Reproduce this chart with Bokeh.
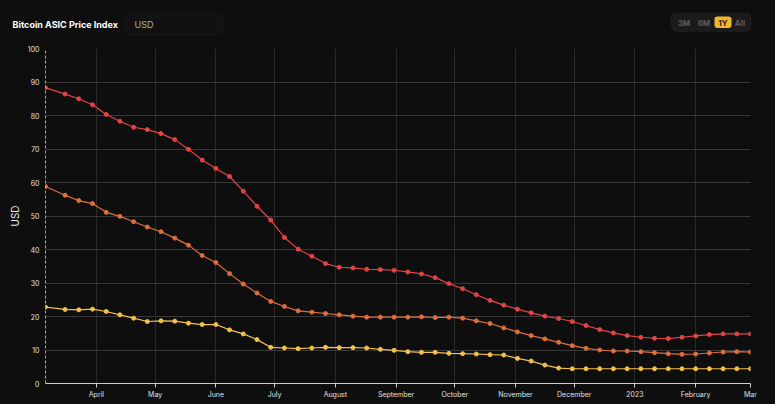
import pandas as pd
from bokeh.plotting import figure
from bokeh.models import (FixedTicker, Label, BoxAnnotation,
                          ColumnDataSource, Range1d)
from bokeh.embed import file_html
from bokeh.resources import INLINE

# ---------------- data ----------------
first_date = "2022-03-06"
weekly_start = "2022-03-16"
dates = [pd.Timestamp(first_date)] + list(pd.date_range(weekly_start, periods=51, freq="7D"))

under_38 = [88.3, 86.4, 85.0, 83.2, 80.3, 78.3, 76.5, 75.8, 74.6, 72.8,
            69.9, 66.7, 64.2, 61.8, 57.4, 52.9, 48.8, 43.6, 40.1, 38.0,
            35.8, 34.7, 34.5, 34.1, 34.0, 33.8, 33.3, 32.7, 31.6, 29.8,
            28.3, 26.5, 24.8, 23.4, 22.2, 21.1, 20.1, 19.4, 18.5, 17.3,
            16.1, 15.1, 14.3, 13.8, 13.5, 13.4, 13.8, 14.2, 14.6, 14.8,
            14.8, 14.8]
mid_38_68 = [58.8, 56.2, 54.6, 53.7, 51.1, 49.9, 48.3, 46.7, 45.3, 43.4,
             41.3, 38.2, 36.1, 32.8, 29.7, 27.0, 24.5, 23.0, 21.7, 21.3,
             20.9, 20.5, 20.1, 19.8, 19.8, 19.8, 19.8, 19.9, 19.7, 19.8,
             19.5, 18.7, 17.9, 16.6, 15.4, 14.3, 13.3, 12.3, 11.3, 10.5,
             10.0, 9.7, 9.7, 9.5, 9.2, 8.9, 8.7, 8.8, 9.1, 9.4,
             9.5, 9.4]
above_68 = [22.8, 22.1, 22.0, 22.2, 21.5, 20.5, 19.5, 18.5, 18.7, 18.6,
            18.0, 17.6, 17.6, 16.0, 14.8, 13.1, 10.8, 10.6, 10.4, 10.6,
            10.8, 10.7, 10.7, 10.6, 10.2, 9.9, 9.5, 9.3, 9.3, 9.0,
            8.9, 8.8, 8.6, 8.5, 7.5, 6.7, 5.5, 4.6, 4.4, 4.4,
            4.4, 4.4, 4.4, 4.4, 4.4, 4.4, 4.4, 4.4, 4.4, 4.4,
            4.4, 4.4]

month_ticks = ["2022-04-01", "2022-05-01", "2022-06-01", "2022-07-01",
               "2022-08-01", "2022-09-01", "2022-10-01", "2022-11-01",
               "2022-12-01", "2023-01-01", "2023-02-01", "2023-03-01"]
month_labels = ["April", "May", "June", "July", "August", "September",
                "October", "November", "December", "2023", "February", "Mar"]
y_ticks = [0, 10, 20, 30, 40, 50, 60, 70, 80, 90, 100]

title_text = "Bitcoin ASIC Price Index"
currency = "USD"
range_buttons = ["3M", "6M", "1Y", "All"]
active_button = "1Y"

series_colors = ["#e24444", "#dd6f3e", "#f2c14e"]

# ---------------- layout constants ----------------
BG = "#0e0e0e"
W = 775
HH = 36            # header height
H = 404 - HH       # chart height
FRAME_L, FRAME_R = 45, 750

# ---------------- header figure (separate root, frame = whole canvas) ----------------
hdr = figure(width=W, height=HH, output_backend="svg", toolbar_location=None,
             x_range=Range1d(0, W), y_range=Range1d(0, HH),
             x_axis_location=None, y_axis_location=None,
             min_border=0, min_border_left=0, min_border_right=0,
             min_border_top=0, min_border_bottom=0)
hdr.background_fill_color = BG
hdr.border_fill_color = BG
hdr.outline_line_color = None
hdr.xgrid.visible = False
hdr.ygrid.visible = False


def hy(py):
    return HH - py


def lab(text, x, y, size, color, align="left", style="normal"):
    hdr.add_layout(Label(x=x, y=hy(y), text=text, text_font="Inter",
                         text_font_size=size, text_color=color,
                         text_align=align, text_baseline="middle",
                         text_font_style=style))


def box(l, r, t, b, fill, line, radius):
    hdr.add_layout(BoxAnnotation(left=l, right=r, top=hy(t), bottom=hy(b),
                                 fill_color=fill, fill_alpha=1.0,
                                 line_color=line, line_width=1,
                                 border_radius=radius))


lab(title_text, 12, 24, "9px", "#ffffff", style="bold")

box(124.5, 223.5, 13.5, 34.5, "#111111", "#333333", 6)
lab(currency, 134, 24, "9px", "#b0b0b0")
chev_x = [207.8, 211, 214.2, 213.5, 211, 208.5]
chev_y = [22.6, 25.8, 22.6, 21.9, 24.4, 21.9]
hdr.patch(chev_x, [hy(v) for v in chev_y], fill_color="#b0b0b0", line_color=None)

box(670.5, 750.5, 12.5, 31, "#1b1b1b", "#2c2c2c", 5)
box(714, 731, 16, 27.5, "#f4b630", None, 3)
btn_x = [683.5, 703.5, 722.5, 739.5]
for name, bx in zip(range_buttons, btn_x):
    col = "#1a1a1a" if name == active_button else "#5c5c5c"
    lab(name, bx, 22, "8px", col, align="center", style="bold")

# ---------------- chart figure ----------------
chart = figure(width=W, height=H, output_backend="svg", toolbar_location=None,
               x_axis_type="datetime",
               x_range=Range1d(dates[0], dates[-1]), y_range=Range1d(0, 100),
               min_border_left=FRAME_L, min_border_right=W - FRAME_R,
               min_border_top=48 - HH, min_border_bottom=21)
chart.background_fill_color = BG
chart.border_fill_color = BG
chart.outline_line_color = None

tick_ms = [pd.Timestamp(t).value // 10**6 for t in month_ticks]
chart.xaxis.ticker = FixedTicker(ticks=tick_ms)
chart.xaxis.major_label_overrides = {t: l for t, l in zip(tick_ms, month_labels)}
chart.yaxis.ticker = FixedTicker(ticks=y_ticks)

for ax in (chart.xaxis[0], chart.yaxis[0]):
    ax.major_label_text_font = "Inter"
    ax.major_label_text_font_size = "7px"
    ax.major_label_text_color = "#e0e0e0"
    ax.minor_tick_line_color = None

chart.xaxis.axis_line_color = "#cfcfcf"
chart.xaxis.major_tick_line_color = "#cfcfcf"
chart.xaxis.major_tick_out = 4
chart.xaxis.major_tick_in = 0
chart.xaxis.major_label_standoff = 2

chart.yaxis.axis_line_color = "#a8a8a8"
chart.yaxis.axis_line_dash = "3 2"
chart.yaxis.major_tick_line_color = None
chart.yaxis.major_tick_out = 0
chart.yaxis.major_tick_in = 0
chart.yaxis.major_label_standoff = 6
chart.yaxis.axis_label = currency
chart.yaxis.axis_label_text_font = "Inter"
chart.yaxis.axis_label_text_font_size = "10px"
chart.yaxis.axis_label_text_font_style = "normal"
chart.yaxis.axis_label_text_color = "#f0f0f0"
chart.yaxis.axis_label_standoff = 4

chart.ygrid.grid_line_color = "#383838"
chart.xgrid.grid_line_color = "#2a2a2a"

src = ColumnDataSource(dict(date=dates, a=under_38, b=mid_38_68, c=above_68))
for colname, color in zip(["a", "b", "c"], series_colors):
    chart.line("date", colname, source=src, line_color=color, line_width=1.2)
    chart.scatter("date", colname, source=src, size=4, fill_color=color,
                  line_color=color)

# two independent roots stacked vertically (no frame alignment between them)
p = [hdr, chart]

html = file_html(p, INLINE)
html = html.replace("<head>", "<head><style>body{background:#0e0e0e;}</style>", 1)
open("out.html", "w").write(html)
